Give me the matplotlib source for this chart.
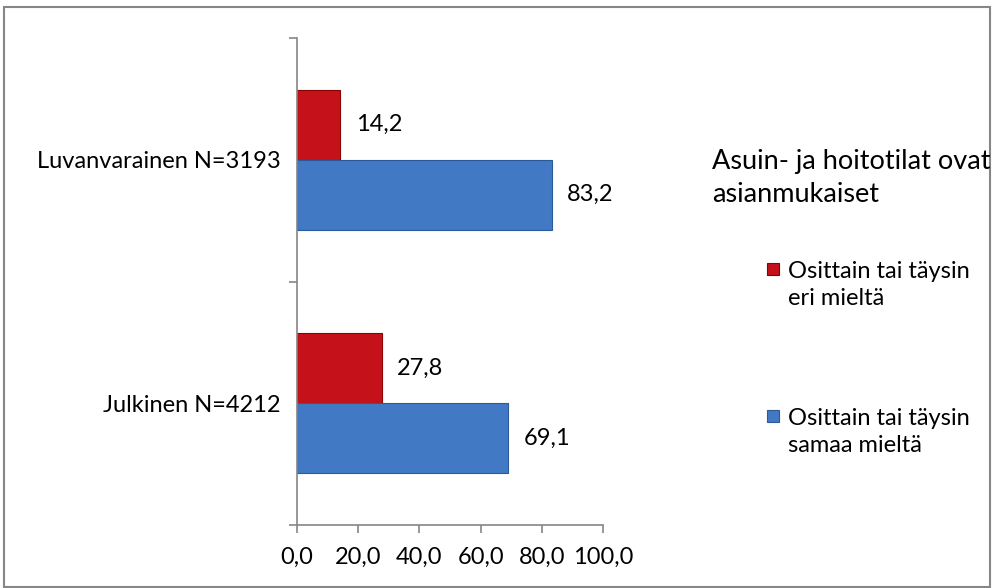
import matplotlib.pyplot as plt
from matplotlib.patches import Rectangle

# --- Data ---
categories = ["Julkinen N=4212", "Luvanvarainen N=3193"]
eri_mielta = [27.8, 14.2]      # Osittain tai täysin eri mieltä
samaa_mielta = [69.1, 83.2]    # Osittain tai täysin samaa mieltä
series_labels = ["Osittain tai täysin\neri mieltä", "Osittain tai täysin\nsamaa mieltä"]
legend_title = "Asuin- ja hoitotilat ovat\nasianmukaiset"
xticks = [0, 20, 40, 60, 80, 100]

RED = "#C5121A"
BLUE = "#4179C4"
GRAY = "#868686"
FS = 17

plt.rcParams["font.family"] = ["Lato", "DejaVu Sans"]

fig = plt.figure(figsize=(9.93, 5.88), dpi=100)
ax = fig.add_axes([297 / 993, 1 - 525 / 588, 306 / 993, 487 / 588])

h = 0.288
y = [0, 1]
ax.barh([v + h / 2 for v in y], eri_mielta, height=h, color=RED,
        edgecolor="#8B0000", linewidth=0.8)
ax.barh([v - h / 2 for v in y], samaa_mielta, height=h, color=BLUE,
        edgecolor="#2A5A97", linewidth=0.8)

# arvot palkkien perään
for i in range(len(categories)):
    ax.text(eri_mielta[i] + 5, y[i] + h / 2, f"{eri_mielta[i]:.1f}".replace(".", ","),
            va="center", ha="left", fontsize=FS)
    ax.text(samaa_mielta[i] + 5, y[i] - h / 2, f"{samaa_mielta[i]:.1f}".replace(".", ","),
            va="center", ha="left", fontsize=FS)

ax.set_xlim(0, 100)
ax.set_ylim(-0.5, 1.5)
ax.set_xticks(xticks)
ax.set_xticklabels([f"{t:.1f}".replace(".", ",") for t in xticks], fontsize=FS)
ax.set_yticks([-0.5, 0.5, 1.5])
ax.set_yticklabels([])
ax.set_yticks(y, minor=True)
ax.set_yticklabels(categories, minor=True, fontsize=FS)
ax.tick_params(axis="y", which="minor", length=0, pad=12)
ax.tick_params(axis="y", which="major", length=6, color=GRAY, width=1.2)
ax.tick_params(axis="x", length=6, color=GRAY, width=1.2, pad=10)
for s in ["top", "right"]:
    ax.spines[s].set_visible(False)
for s in ["left", "bottom"]:
    ax.spines[s].set_color(GRAY)
    ax.spines[s].set_linewidth(1.2)

# legenda käsin
fig.text(712 / 993, 1 - 178 / 588, legend_title, fontsize=19.5, va="center",
         ha="left", linespacing=1.4)
leg_y = [285, 432]
colors = [RED, BLUE]
edges = ["#8B0000", "#2A5A97"]
for ly, lab, c, ec in zip(leg_y, series_labels, colors, edges):
    fig.patches.append(Rectangle((767 / 993, 1 - (ly - 10) / 588), 12 / 993, 12 / 588,
                                 transform=fig.transFigure, facecolor=c,
                                 edgecolor=ec, linewidth=0.8))
    fig.text(788 / 993, 1 - ly / 588, lab, fontsize=FS, va="center", ha="left",
             linespacing=1.3)

# kehys
fig.patches.append(Rectangle((4 / 993, 1 / 588), 986 / 993, 580 / 588,
                             transform=fig.transFigure, fill=False,
                             edgecolor=GRAY, linewidth=1.5))

fig.savefig("out.png", dpi=100)
